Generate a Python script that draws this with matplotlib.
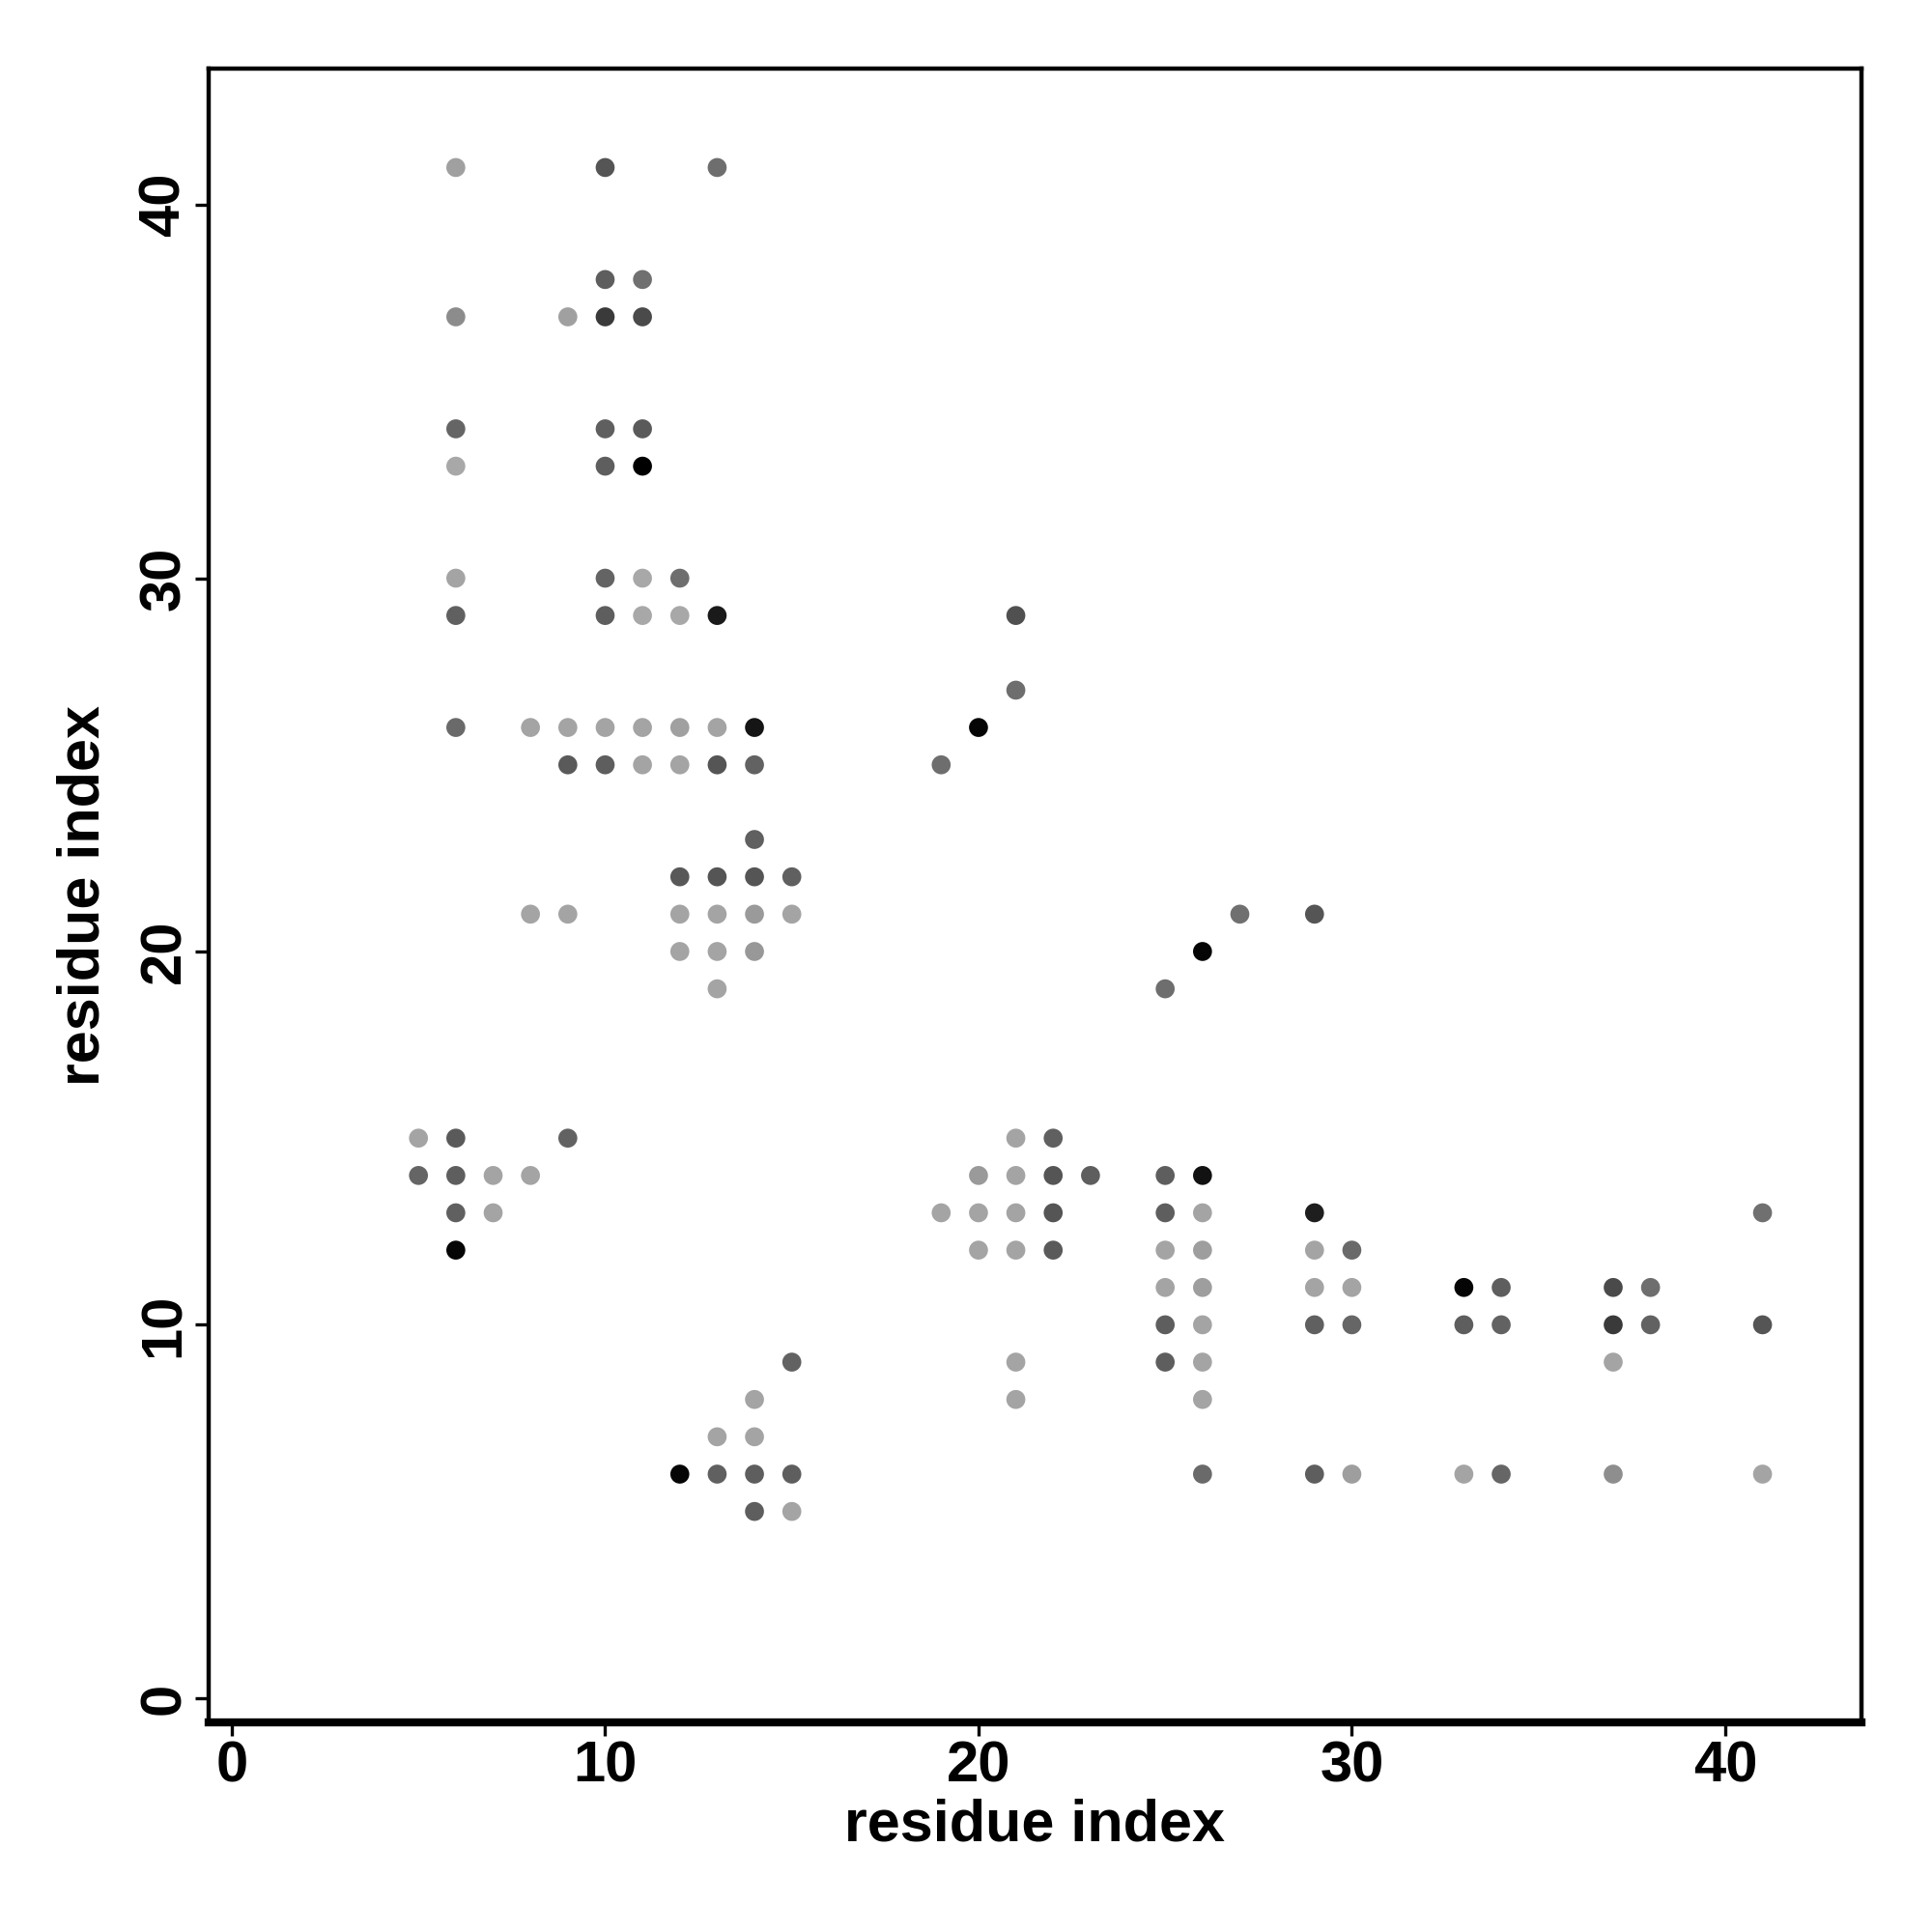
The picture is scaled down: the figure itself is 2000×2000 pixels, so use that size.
import numpy as np
import matplotlib.pyplot as plt

plt.rcParams['font.family'] = ['Liberation Sans', 'DejaVu Sans']
plt.rcParams['font.weight'] = 'bold'

# contacts: residue i, residue j, grey level (0 = black, 255 = white)
res_i = [6, 10, 13,
         10, 11,
         6, 9, 10, 11,
         6, 10, 11,
         6, 10, 11,
         6, 10, 11, 12,
         6, 10, 11, 12, 13, 21,
         6, 8, 9, 10, 11, 12, 13, 14, 20,
         9, 10, 11, 12, 13, 14, 19,
         14, 21,
         12, 13, 14, 15,
         8, 9, 12, 13, 14, 15, 27, 29,
         12, 13, 14, 26,
         13, 25,
         5, 6, 9, 21, 22,
         5, 6, 7, 8, 20, 21, 22, 23, 25, 26,
         6, 7, 19, 20, 21, 22, 25, 26, 29, 41,
         6, 20, 21, 22, 25, 26, 29, 30,
         25, 26, 29, 30, 33, 34, 37, 38,
         25, 26, 29, 30, 33, 34, 37, 38, 41,
         15, 21, 25, 26, 37,
         14, 21, 26,
         13, 14,
         12, 13, 14, 15, 26, 29, 30, 33, 34, 37, 41,
         14, 15]
res_j = [41, 41, 41,
         38, 38,
         37, 37, 37, 37,
         34, 34, 34,
         33, 33, 33,
         30, 30, 30, 30,
         29, 29, 29, 29, 29, 29,
         26, 26, 26, 26, 26, 26, 26, 26, 26,
         25, 25, 25, 25, 25, 25, 25,
         23, 27,
         22, 22, 22, 22,
         21, 21, 21, 21, 21, 21, 21, 21,
         20, 20, 20, 20,
         19, 19,
         15, 15, 15, 15, 15,
         14, 14, 14, 14, 14, 14, 14, 14, 14, 14,
         13, 13, 13, 13, 13, 13, 13, 13, 13, 13,
         12, 12, 12, 12, 12, 12, 12, 12,
         11, 11, 11, 11, 11, 11, 11, 11,
         10, 10, 10, 10, 10, 10, 10, 10, 10,
         9, 9, 9, 9, 9,
         8, 8, 8,
         7, 7,
         6, 6, 6, 6, 6, 6, 6, 6, 6, 6, 6,
         5, 5]
grey = [160, 85, 110,
        94, 112,
        140, 160, 58, 74,
        101, 95, 90,
        168, 94, 0,
        164, 100, 168, 110,
        96, 94, 168, 168, 26, 80,
        106, 164, 164, 164, 164, 160, 164, 21, 5,
        90, 94, 164, 164, 85, 98, 110,
        96, 110,
        88, 85, 85, 96,
        164, 164, 164, 164, 154, 164, 112, 85,
        164, 164, 152, 5,
        164, 110,
        164, 90, 98, 164, 96,
        101, 94, 164, 164, 154, 164, 85, 94, 94, 18,
        96, 164, 164, 164, 164, 85, 94, 164, 30, 112,
        5, 164, 164, 90, 164, 158, 164, 106,
        164, 158, 164, 164, 5, 94, 74, 110,
        94, 164, 96, 102, 94, 98, 58, 98, 85,
        98, 164, 94, 164, 164,
        164, 164, 164,
        164, 164,
        5, 96, 94, 94, 106, 94, 158, 164, 102, 142, 164,
        94, 164]

cols = [str(g / 255) for g in grey]

fig = plt.figure(figsize=(10, 10), dpi=200)
ax = fig.add_axes([0.108, 0.1085, 0.8555, 0.856])
ax.scatter(res_i, res_j, s=50, c=cols, edgecolors='none')

ax.set_xlim(-0.62, 43.65)
ax.set_ylim(-0.65, 43.65)
ax.set_xticks([0, 10, 20, 30, 40])
ax.set_yticks([0, 10, 20, 30, 40])
ax.tick_params(direction='out', length=5, width=1.2, labelsize=21.5, pad=1.5)
for lab in ax.get_yticklabels():
    lab.set_rotation(90)
    lab.set_va('center')
for sp in ax.spines.values():
    sp.set_linewidth(1.6)
ax.spines['bottom'].set_linewidth(3)

ax.set_xlabel('residue index', fontsize=22, fontweight='bold', labelpad=2)
ax.set_ylabel('residue index', fontsize=22, fontweight='bold', labelpad=10)

fig.savefig('out.png', dpi=200, facecolor='white')
